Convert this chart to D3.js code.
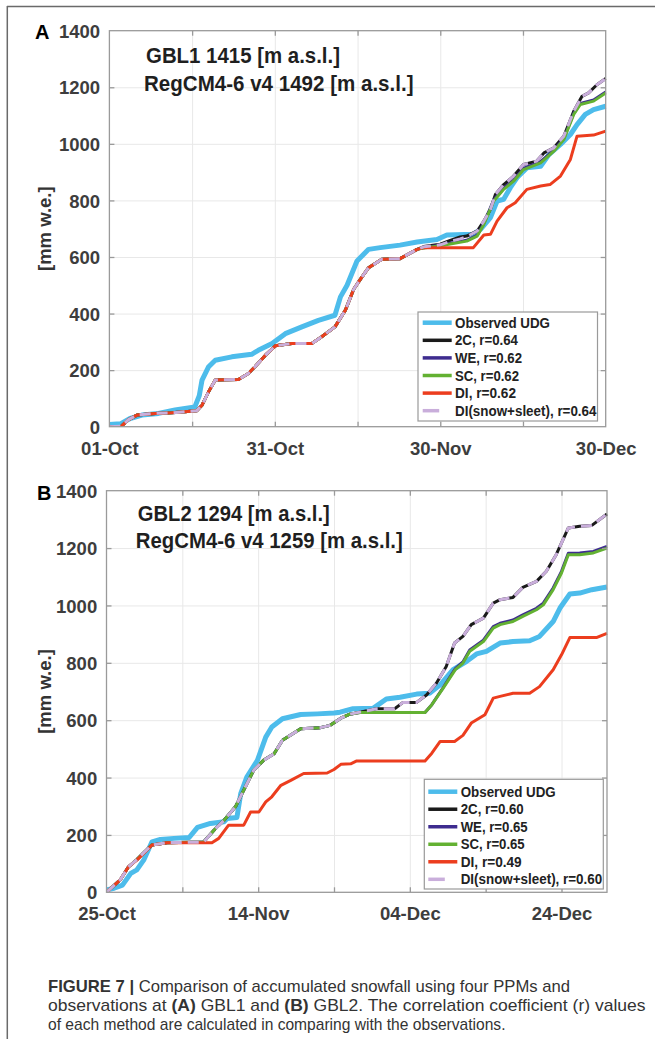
<!DOCTYPE html>
<html><head><meta charset="utf-8">
<script src="https://cdn.jsdelivr.net/npm/d3@7"></script>
<style>body{margin:0;background:#fff}svg{display:block}</style>
</head><body>
<svg id="chart" width="655" height="1039"></svg>
<script>
// ---------------- DATA ----------------
const yTicks = [0, 200, 400, 600, 800, 1000, 1200, 1400];
const seriesNames = ["Observed UDG", "2C", "WE", "SC", "DI", "DI(snow+sleet)"];
const A_r = [null, "0.64", "0.62", "0.62", "0.62", "0.64"];
const B_r = [null, "0.60", "0.65", "0.65", "0.49", "0.60"];
const A_xTickLabels = ["01-Oct", "31-Oct", "30-Nov", "30-Dec"];
const B_xTickLabels = ["25-Oct", "14-Nov", "04-Dec", "24-Dec"];
const A_title = ["GBL1 1415 [m a.s.l.]", "RegCM4-6 v4 1492 [m a.s.l.]"];
const B_title = ["GBL2 1294 [m a.s.l.]", "RegCM4-6 v4 1259 [m a.s.l.]"];
const A_period = ["01-Oct-2018", "30-Dec-2018"];
const B_period = ["25-Oct-2018", "30-Dec-2018"];

// [day offset from period start, accumulated snowfall mm w.e.]
const A_obs = [[0,8],[2,10],[3.75,29],[5.9,41],[8.9,47],[11.9,59],[15.5,70],[16.3,110],[16.8,165],[18,212],[19.2,235],[22.2,247],[25.8,256],[27,270],[29.5,294],[31.9,329],[34.9,353],[37.9,376],[40.9,394],[41.9,459],[43.1,500],[44.9,586],[47,627],[49.1,633],[52.7,642],[55.8,653],[59.4,662],[61.2,678],[66,680],[67.3,698],[69.1,739],[70.3,798],[71.5,804],[72.7,845],[73.9,880],[75.7,915],[78.2,921],[79.7,962],[81.8,998],[83.6,1033],[84.8,1068],[86.3,1104],[87.8,1121],[90,1133]];
const A_2c = [[0,0],[2.2,2],[3.4,24],[5,41],[8.3,47],[11.3,49],[13.7,53],[15.8,56],[16.8,76],[18,124],[19.2,165],[23.4,167],[25.2,188],[26.4,212],[28.3,253],[30.1,286],[33.1,294],[36.7,294],[38.5,318],[40.9,353],[42.8,412],[44.3,486],[45.5,521],[47,562],[49.4,592],[52.7,594],[55.8,627],[57,637],[60,645],[61.8,659],[63.6,671],[64.8,674],[66.7,692],[67.9,727],[69.1,768],[70,821],[71.5,856],[73.3,886],[75.1,927],[77.5,939],[78.8,968],[80.6,986],[82.4,1027],[84.2,1115],[85.7,1168],[86.9,1180],[88.4,1209],[90,1231]];
const A_we = [[0,0],[2.2,2],[3.4,24],[5,41],[8.3,47],[11.3,49],[13.7,53],[15.8,56],[16.8,76],[18,124],[19.2,165],[23.4,167],[25.2,188],[26.4,212],[28.3,253],[30.1,286],[33.1,294],[36.7,294],[38.5,318],[40.9,353],[42.8,412],[44.3,486],[45.5,521],[47,562],[49.4,592],[52.7,594],[55.8,627],[57,633],[60,642],[61.8,649],[64.8,659],[66.7,677],[67.9,719],[69.7,802],[71.5,843],[73.3,872],[75.1,913],[78.2,937],[80.6,978],[82.4,1019],[84.2,1108],[85.4,1143],[87.8,1155],[90,1183]];
const A_sc = [[0,0],[2.2,2],[3.4,24],[5,41],[8.3,47],[11.3,49],[13.7,53],[15.8,56],[16.8,76],[18,124],[19.2,165],[23.4,167],[25.2,188],[26.4,212],[28.3,253],[30.1,286],[33.1,294],[36.7,294],[38.5,318],[40.9,353],[42.8,412],[44.3,486],[45.5,521],[47,562],[49.4,592],[52.7,594],[55.8,627],[57,632],[60,640],[61.8,646],[64.8,656],[66.7,674],[67.9,715],[69.7,798],[71.5,839],[73.3,868],[75.1,909],[78.2,933],[80.6,974],[82.4,1015],[84.2,1104],[85.4,1139],[87.8,1151],[90,1180]];
const A_di = [[0,0],[2.2,2],[3.4,24],[5,41],[8.3,47],[11.3,49],[13.7,53],[15.8,56],[16.8,76],[18,124],[19.2,165],[23.4,167],[25.2,188],[26.4,212],[28.3,253],[30.1,286],[33.1,294],[36.7,294],[38.5,318],[40.9,353],[42.8,412],[44.3,486],[45.5,521],[47,562],[49.4,592],[52.7,594],[55.8,627],[57,633],[66,633],[67.9,678],[69.1,680],[70.3,727],[72.1,774],[73.6,792],[75.7,839],[78.2,851],[79.9,856],[81.8,886],[83.6,945],[84.8,1027],[87.8,1031],[90,1045]];
const A_diss = [[0,0],[2.2,2],[3.4,24],[5,41],[8.3,47],[11.3,49],[13.7,53],[15.8,56],[16.8,76],[18,124],[19.2,165],[23.4,167],[25.2,188],[26.4,212],[28.3,253],[30.1,286],[33.1,294],[36.7,294],[38.5,318],[40.9,353],[42.8,412],[44.3,486],[45.5,521],[47,562],[49.4,592],[52.7,594],[55.8,627],[57,636],[60,643],[61.8,655],[63.6,664],[64.8,672],[66.7,692],[67.9,727],[69.1,768],[70,821],[71.5,856],[73.3,886],[75.1,927],[77.5,939],[78.8,968],[80.6,986],[82.4,1027],[84.2,1115],[85.7,1168],[86.9,1180],[88.4,1209],[90,1231]];

const B_obs = [[0,8],[1,14],[2.1,25],[3.2,66],[4,78],[4.9,112],[6,176],[7.1,184],[8.9,188],[10.9,191],[12,226],[13.7,240],[15.5,246],[15.9,257],[17.2,261],[17.7,344],[18.5,402],[19.9,460],[21,541],[21.8,576],[23.2,605],[25.6,620],[27.8,622],[30,625],[30.8,628],[32.5,640],[35.2,642],[36.9,674],[38.7,680],[40.9,691],[42.6,694],[44,723],[45.7,776],[47.5,805],[48.8,831],[50.1,840],[51.9,869],[53.6,874],[55.8,877],[57.1,892],[58.9,944],[59.8,991],[61.1,1040],[62.4,1043],[64,1055],[66,1064]];
const B_2c = [[0,0],[1.8,43],[2.9,89],[4,114],[5.1,143],[6,165],[8,173],[12.8,175],[14.2,217],[15.5,251],[17,298],[18.1,356],[19.4,425],[20.7,460],[22.1,483],[23.2,530],[25.6,570],[28.2,574],[29.5,582],[30.9,607],[32.1,621],[33.4,628],[35.6,640],[38,640],[39.1,662],[40.9,662],[42.2,688],[43.5,729],[44.8,787],[45.9,869],[47,892],[48.1,933],[49.7,956],[51,1008],[51.9,1020],[53.6,1028],[54.9,1063],[56.7,1084],[58,1119],[59.3,1177],[60.9,1270],[62.4,1276],[64,1279],[66,1319]];
const B_we = [[0,0],[1.8,43],[2.9,89],[4,114],[5.1,143],[6,165],[8,173],[12.8,175],[14.2,217],[15.5,251],[17,298],[18.1,356],[19.4,425],[20.7,460],[22.1,483],[23.2,530],[25.6,570],[28.2,574],[29.5,582],[30.9,607],[32.1,621],[33.4,627],[42,627],[42.9,654],[44.4,714],[46,780],[47,803],[47.9,845],[49.7,879],[51,926],[51.9,938],[53.6,949],[54.9,967],[56.7,990],[57.6,1008],[58.9,1061],[60,1119],[60.9,1182],[62.4,1183],[64.2,1188],[66,1206]];
const B_sc = [[0,0],[1.8,43],[2.9,89],[4,114],[5.1,143],[6,165],[8,173],[12.8,175],[14.2,217],[15.5,251],[17,298],[18.1,356],[19.4,425],[20.7,460],[22.1,483],[23.2,530],[25.6,570],[28.2,574],[29.5,582],[30.9,607],[32.1,621],[33.4,627],[42,627],[42.9,654],[44.4,712],[46,776],[47,799],[47.9,840],[49.7,874],[51,921],[51.9,933],[53.6,944],[54.9,962],[56.7,985],[57.6,1002],[58.9,1055],[60,1113],[60.9,1177],[62.4,1177],[64.2,1183],[66,1200]];
const B_di = [[0,0],[1.8,43],[2.9,89],[4,112],[5.1,141],[6,165],[8,173],[10.6,173],[13.9,173],[14.8,188],[16.1,234],[18.1,234],[19,280],[20.1,280],[21,315],[21.8,333],[23,373],[24.3,390],[26,414],[29.1,416],[30,428],[30.9,446],[32.2,448],[33,458],[42,458],[42.9,485],[44,526],[45.9,526],[47,547],[48.1,590],[49.9,619],[51,677],[51.9,683],[53.6,694],[55.8,694],[57.1,717],[58.9,776],[60,828],[61.1,888],[64.6,888],[66,903]];
const B_diss = [[0,0],[1.8,43],[2.9,89],[4,114],[5.1,143],[6,165],[8,173],[12.8,175],[14.2,217],[15.5,251],[17,298],[18.1,356],[19.4,425],[20.7,460],[22.1,483],[23.2,530],[25.6,570],[28.2,574],[29.5,582],[30.9,607],[32.1,621],[33.4,628],[35.6,640],[38,640],[39.1,662],[40.9,662],[42.2,688],[43.5,729],[44.8,787],[45.9,869],[47,892],[48.1,933],[49.7,956],[51,1008],[51.9,1020],[53.6,1028],[54.9,1063],[56.7,1084],[58,1119],[59.3,1177],[60.9,1270],[62.4,1276],[64,1279],[66,1319]];

const captionLines = [
  [["FIGURE 7 |", true], [" Comparison of accumulated snowfall using four PPMs and", false]],
  [["observations at ", false], ["(A)", true], [" GBL1 and ", false], ["(B)", true], [" GBL2. The correlation coefficient (r) values", false]],
  [["of each method are calculated in comparing with the observations.", false]]
];

// ---------------- STYLE / LAYOUT ----------------
const FONT = "'Liberation Sans', Arial, Helvetica, sans-serif";
const styles = [
  {color: "#4DBCEB", width: 5,   dash: null},
  {color: "#1a1a1a", width: 3,   dash: null},
  {color: "#3E2C8F", width: 3,   dash: null},
  {color: "#63B132", width: 3,   dash: null},
  {color: "#EC3D1E", width: 3,   dash: null},
  {color: "#C9AEDB", width: 3,   dash: "11,6"}
];
const svg = d3.select("#chart");
const parseD = d3.utcParse("%d-%b-%Y");

// outer frame
svg.append("line").attr("x1", 7).attr("x2", 655).attr("y1", 6.5).attr("y2", 6.5).attr("stroke", "#6a6a6a").attr("stroke-width", 1.5);
svg.append("line").attr("x1", 7.3).attr("x2", 7.3).attr("y1", 6).attr("y2", 1039).attr("stroke", "#6a6a6a").attr("stroke-width", 1.5);

function drawPanel(cfg) {
  const start = parseD(cfg.period[0]), end = parseD(cfg.period[1]);
  const x = d3.scaleUtc().domain([start, end]).range([cfg.left, cfg.right]);
  const y = d3.scaleLinear().domain([0, 1400]).range([cfg.bottom, cfg.top]);
  const ph = cfg.bottom - cfg.top, pw = cfg.right - cfg.left;
  const g = svg.append("g");
  const gridDates = d3.utcDay.range(start, end, 1).filter((d, i) => i % cfg.gridStep === 0 && i > 0);
  const labelDates = cfg.xLabels.map(s => parseD(s + "-2018"));

  // grid
  g.append("g").attr("transform", `translate(0,${cfg.bottom})`)
    .call(d3.axisBottom(x).tickValues(gridDates).tickSize(-ph).tickFormat(""))
    .call(s => { s.select(".domain").remove(); s.selectAll("line").attr("stroke", "#e8e8e8").attr("stroke-width", 1); });
  g.append("g").attr("transform", `translate(${cfg.left},0)`)
    .call(d3.axisLeft(y).tickValues(yTicks.slice(1, -1)).tickSize(-pw).tickFormat(""))
    .call(s => { s.select(".domain").remove(); s.selectAll("line").attr("stroke", "#e8e8e8").attr("stroke-width", 1); });

  // series
  const clipId = "clip" + cfg.id;
  svg.append("clipPath").attr("id", clipId).append("rect")
    .attr("x", cfg.left).attr("y", cfg.top - 3).attr("width", pw + 1).attr("height", ph + 3);
  const line = d3.line().x(d => x(new Date(start.getTime() + d[0] * 864e5))).y(d => y(d[1]));
  const lg = g.append("g").attr("clip-path", `url(#${clipId})`);
  cfg.series.forEach((s, i) => {
    lg.append("path").datum(s).attr("d", line).attr("fill", "none")
      .attr("stroke", styles[i].color).attr("stroke-width", styles[i].width)
      .attr("stroke-linejoin", "round").attr("stroke-linecap", "butt")
      .attr("stroke-dasharray", styles[i].dash);
  });

  // box + inward ticks
  const axCol = "#9a9a9a";
  g.append("rect").attr("x", cfg.left).attr("y", cfg.top).attr("width", pw).attr("height", ph)
    .attr("fill", "none").attr("stroke", axCol).attr("stroke-width", 1.3);
  const tk = (axis, tr) => g.append("g").attr("transform", tr).call(axis)
    .call(s => { s.select(".domain").remove(); s.selectAll("line").attr("stroke", axCol).attr("stroke-width", 1.3); });
  tk(d3.axisBottom(x).tickValues(gridDates).tickSize(-5).tickFormat(""), `translate(0,${cfg.bottom})`);
  tk(d3.axisTop(x).tickValues(gridDates).tickSize(-5).tickFormat(""), `translate(0,${cfg.top})`);
  tk(d3.axisLeft(y).tickValues(yTicks.slice(1, -1)).tickSize(-5).tickFormat(""), `translate(${cfg.left},0)`);
  tk(d3.axisRight(y).tickValues(yTicks.slice(1, -1)).tickSize(-5).tickFormat(""), `translate(${cfg.right},0)`);

  // tick labels
  const lab = s => { s.select(".domain").remove(); s.selectAll("line").remove();
    s.selectAll("text").attr("font-family", FONT).attr("font-size", 18.5).attr("font-weight", "bold").attr("fill", "#3d3d3d"); };
  g.append("g").attr("transform", `translate(0,${cfg.bottom})`)
    .call(d3.axisBottom(x).tickValues(labelDates).tickSize(0).tickFormat((d, i) => cfg.xLabels[i]))
    .call(lab).call(s => s.selectAll("text").attr("y", cfg.xLabelBase).attr("dy", null));
  g.append("g").attr("transform", `translate(${cfg.left},0)`)
    .call(d3.axisLeft(y).tickValues(yTicks).tickSize(0).tickPadding(9.3).tickFormat(d3.format("d")))
    .call(lab).call(s => s.selectAll("text").attr("dy", "0.36em"));

  // y title
  g.append("text").attr("transform", `translate(${cfg.yTitleX},${(cfg.top + cfg.bottom) / 2}) rotate(-90)`)
    .attr("text-anchor", "middle").attr("dy", "0.36em").attr("font-family", FONT).attr("font-size", 18.5)
    .attr("font-weight", "bold").attr("fill", "#333").text("[mm w.e.]");

  // panel letter
  g.append("text").attr("x", cfg.letterX).attr("y", cfg.letterY).attr("font-family", FONT)
    .attr("font-size", 20).attr("font-weight", "bold").attr("fill", "#000").text(cfg.letter);

  // annotation
  cfg.title.forEach((t, i) => g.append("text").attr("x", cfg.titleX[i]).attr("y", cfg.titleY[i])
    .attr("font-family", FONT).attr("font-size", 22).attr("font-weight", "bold").attr("fill", "#1f1f1f")
    .attr("textLength", cfg.titleW[i]).attr("lengthAdjust", "spacingAndGlyphs").text(t));

  // legend
  const L = cfg.legend;
  g.append("rect").attr("x", L.x0).attr("y", L.y0).attr("width", L.x1 - L.x0).attr("height", L.y1 - L.y0)
    .attr("fill", "#fff").attr("stroke", "#9a9a9a").attr("stroke-width", 1.2);
  seriesNames.forEach((n, i) => {
    const yy = L.row0 + i * L.step;
    g.append("line").attr("x1", L.lx0).attr("x2", L.lx1).attr("y1", yy).attr("y2", yy)
      .attr("stroke", styles[i].color).attr("stroke-width", i === 0 ? 4.5 : 3.5)
      .attr("stroke-dasharray", styles[i].dash ? "16.5,30" : null);
    g.append("text").attr("x", L.tx).attr("y", yy).attr("dy", "0.36em").attr("font-family", FONT)
      .attr("font-size", 14).attr("font-weight", "bold").attr("fill", "#222")
      .attr("textLength", L.tw[i]).attr("lengthAdjust", "spacingAndGlyphs")
      .text(cfg.r[i] ? `${n}, r=${cfg.r[i]}` : n);
  });
}

drawPanel({
  id: "A", period: A_period, left: 109.4, right: 605.7, top: 30.7, bottom: 426.7, gridStep: 15,
  xLabels: A_xTickLabels, xLabelBase: 28.3, yTitleX: 44, letter: "A", letterX: 35, letterY: 38.8,
  title: A_title, titleX: [146, 144], titleY: [62.7, 90.7], titleW: [194, 269.5], r: A_r,
  series: [A_obs, A_2c, A_we, A_sc, A_di, A_diss],
  legend: {x0: 418, x1: 597.5, y0: 312, y1: 421, row0: 322.7, step: 17.6, lx0: 422.7, lx1: 451.7, tx: 455,
           tw: [95, 63, 67, 64, 61, 141.5]}
});
drawPanel({
  id: "B", period: B_period, left: 106.5, right: 607, top: 490.7, bottom: 892.3, gridStep: 10,
  xLabels: B_xTickLabels, xLabelBase: 27.8, yTitleX: 44, letter: "B", letterX: 37, letterY: 499.5,
  title: B_title, titleX: [137.8, 135.8], titleY: [521, 548.3], titleW: [192, 267], r: B_r,
  series: [B_obs, B_2c, B_we, B_sc, B_di, B_diss],
  legend: {x0: 424.3, x1: 603.3, y0: 779.3, y1: 889, row0: 791.7, step: 17.52, lx0: 428.3, lx1: 457.3, tx: 460.7,
           tw: [95, 63, 67, 64, 61, 141.5]}
});

// caption
const capBase = [991.7, 1010.9, 1030];
const capWidth = [522, 597.5, 457.5];
captionLines.forEach((parts, i) => {
  const t = svg.append("text").attr("x", 48).attr("y", capBase[i]).attr("font-family", FONT)
    .attr("font-size", 17).attr("fill", "#333")
    .attr("textLength", capWidth[i]).attr("lengthAdjust", "spacingAndGlyphs");
  parts.forEach(p => t.append("tspan").attr("font-weight", p[1] ? "bold" : "normal").text(p[0]));
});
</script>
</body></html>
